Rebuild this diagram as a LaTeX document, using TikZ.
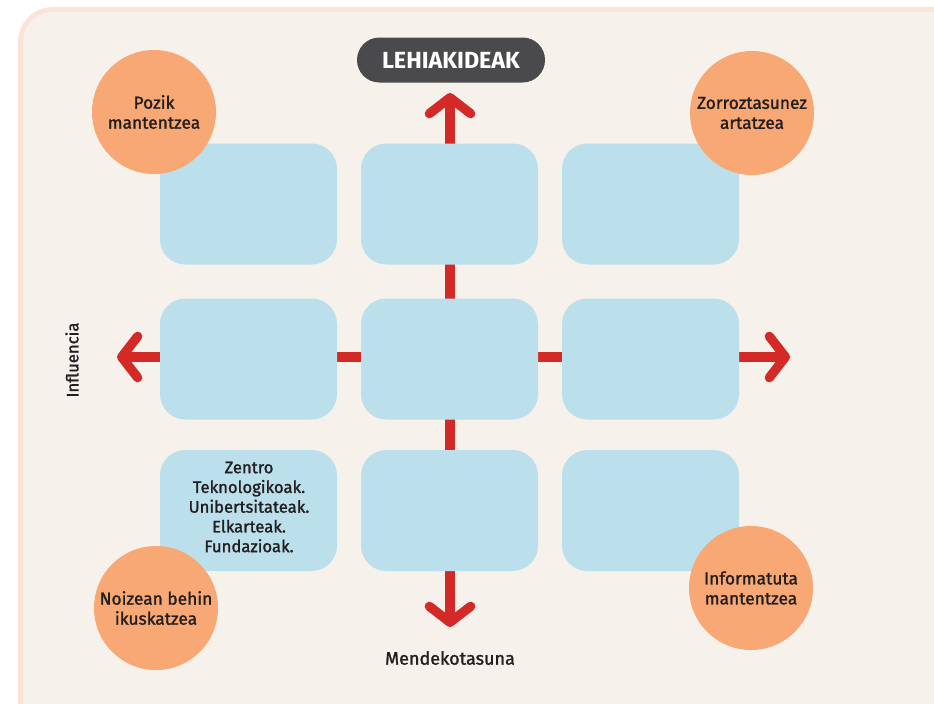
\documentclass[tikz,border=0pt]{standalone}
\usepackage{fontspec}
\setmainfont{Fira Sans}
\newfontfamily\mediumfont{Fira Sans}[FakeBold=1.4]
\usetikzlibrary{arrows.meta}

\definecolor{framefill}{HTML}{F6F1EB}
\definecolor{frameline}{HTML}{FBE3D8}
\definecolor{cellblue}{HTML}{BCE0EB}
\definecolor{stanceorange}{HTML}{F8A874}
\definecolor{axisred}{HTML}{D42A27}
\definecolor{pillgrey}{HTML}{4A4A4C}
\definecolor{ink}{HTML}{231F20}

\tikzset{
  cell/.style={fill=cellblue, rounded corners=19pt, minimum width=132.75pt,
    minimum height=90.75pt, inner sep=0pt, align=center, text=ink,
    font=\mediumfont\fontsize{12.5}{14.8}\selectfont},
  stance/.style={circle, fill=stanceorange, minimum size=93pt, inner sep=0pt,
    align=center, text=ink, font=\mediumfont\fontsize{13}{15}\selectfont},
  axisarrow/.style={draw=axisred, line width=7pt,
    arrows={Straight Barb[length=12pt, width=31pt, round]-Straight Barb[length=12pt, width=31pt, round]}},
  axislabel/.style={text=ink, font=\mediumfont\fontsize{12.5}{14}\selectfont},
}

\begin{document}
\begin{tikzpicture}[x=0.75pt, y=-0.75pt]
\useasboundingbox (0,0) rectangle (934,703);
\clip (0,0) rectangle (934,703);
\fill[white] (0,0) rectangle (934,703);
\draw[frameline, fill=framefill, line width=3.5pt, rounded corners=24pt] (20.5,9.5) rectangle (980,750);

% axes
\coordinate (northtip) at (450,93);
\coordinate (southtip) at (450,627);
\coordinate (westtip) at (117,357);
\coordinate (easttip) at (790,357);
\draw[axisarrow] (southtip) -- (northtip);
\draw[axisarrow] (westtip) -- (easttip);

% grid
\node[cell] (tl) at (248.5,204) {};
\node[cell] (tc) at (449.5,204) {};
\node[cell] (tr) at (650.5,204) {};
\node[cell] (ml) at (248.5,359) {};
\node[cell] (mc) at (449.5,359) {};
\node[cell] (mr) at (650.5,359) {};
\node[cell] (bl) at (248.5,510.5) {};
\node[cell] (bc) at (449.5,510.5) {};
\node[cell] (br) at (650.5,510.5) {};
\node[text=ink, align=center, font=\mediumfont\fontsize{12.5}{14.8}\selectfont, anchor=north]
  (bltext) at (249,457) {Zentro\\Teknologikoak.\\Unibertsitateak.\\Elkarteak.\\Fundazioak.};

% stances
\node[stance] (keep) at (154,112) {Pozik\\mantentzea};
\node[stance] (manage) at (752,113) {Zorroztasunez\\artatzea};
\node[stance] (monitor) at (156,608) {Noizean behin\\ikuskatzea};
\node[stance] (inform) at (751,588) {Informatuta\\mantentzea};

% labels
\node[fill=pillgrey, rounded corners=16.8pt, minimum width=141pt, minimum height=33.75pt,
  text=white, font=\fontsize{17.5}{19}\selectfont\bfseries] (rivals) at (451,60) {LEHIAKIDEAK};
\node[axislabel, rotate=90] (influence) at (72,360) {Influencia};
\node[axislabel, font=\mediumfont\fontsize{13.5}{15}\selectfont] (dependency) at (450,658) {Mendekotasuna};
\end{tikzpicture}
\end{document}
